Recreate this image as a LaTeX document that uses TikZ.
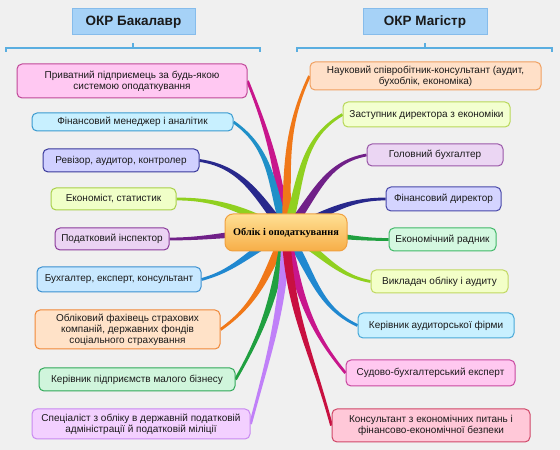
\documentclass[tikz,border=0pt]{standalone}
\usepackage{fontspec}
\setmainfont{Liberation Sans}
\newfontfamily\cfont{Liberation Serif}
\usetikzlibrary{calc}
\pgfdeclarelayer{bg}
\pgfsetlayers{bg,main}
\definecolor{bgc}{HTML}{F0F0F0}
\definecolor{txt}{HTML}{1A1A1A}
\definecolor{hdrf}{HTML}{A6D2F7}
\definecolor{hdrd}{HTML}{86BCEB}
\definecolor{brk}{HTML}{5AAEE0}
% box colours
\definecolor{l1f}{HTML}{FFC8F2}\definecolor{l1d}{HTML}{C04898}
\definecolor{l2f}{HTML}{C8F0FF}\definecolor{l2d}{HTML}{3A9AD0}
\definecolor{l3f}{HTML}{D0D0FF}\definecolor{l3d}{HTML}{38389A}
\definecolor{l4f}{HTML}{F0FFC8}\definecolor{l4d}{HTML}{A8D048}
\definecolor{l5f}{HTML}{EBD3F3}\definecolor{l5d}{HTML}{8A3A9A}
\definecolor{l6f}{HTML}{C8E8FF}\definecolor{l6d}{HTML}{3A90D0}
\definecolor{l7f}{HTML}{FFE2C8}\definecolor{l7d}{HTML}{F08838}
\definecolor{l8f}{HTML}{D0F5DC}\definecolor{l8d}{HTML}{30A858}
\definecolor{l9f}{HTML}{F3D0FF}\definecolor{l9d}{HTML}{C888F0}
\definecolor{r1f}{HTML}{FFE0C8}\definecolor{r1d}{HTML}{F0A060}
\definecolor{r2f}{HTML}{F3FFD0}\definecolor{r2d}{HTML}{B8D858}
\definecolor{r3f}{HTML}{EBD6F3}\definecolor{r3d}{HTML}{9A58A8}
\definecolor{r4f}{HTML}{D4D4FF}\definecolor{r4d}{HTML}{4848A8}
\definecolor{r5f}{HTML}{D4F8E0}\definecolor{r5d}{HTML}{40B868}
\definecolor{r6f}{HTML}{F3FFC8}\definecolor{r6d}{HTML}{C0D860}
\definecolor{r7f}{HTML}{C8F0FF}\definecolor{r7d}{HTML}{48A8D8}
\definecolor{r8f}{HTML}{FFC8F0}\definecolor{r8d}{HTML}{C848A0}
\definecolor{r9f}{HTML}{FFC8D8}\definecolor{r9d}{HTML}{D04868}
% branch colours
\definecolor{bmag}{HTML}{C8168C}
\definecolor{bcyan}{HTML}{2090C8}
\definecolor{bnavy}{HTML}{28288C}
\definecolor{bygr}{HTML}{90D020}
\definecolor{bpur}{HTML}{702088}
\definecolor{bblue}{HTML}{2088D0}
\definecolor{bora}{HTML}{F07818}
\definecolor{bgrn}{HTML}{20A040}
\definecolor{blil}{HTML}{C080F8}
\definecolor{bcri}{HTML}{C81040}
\definecolor{cnd}{HTML}{F0A040}
\definecolor{cnt}{HTML}{FFE094}
\definecolor{cnb}{HTML}{F7AE48}
% tapered branch: colour, start, end, out angle, in angle
\newcommand{\branch}[5]{%
  \fill[#1] ($(#2)+({#4+90}:4.3pt)$) to[out=#4,in=#5] ($(#3)+({#5-90}:1.4pt)$)
    -- ($(#3)+({#5+90}:1.4pt)$) to[out=#5,in=#4] ($(#2)+({#4-90}:4.3pt)$) -- cycle;}
\tikzset{
  box/.style={rounded corners=5pt, line width=1pt, inner sep=2pt, align=center,
    font=\fontsize{10}{11}\selectfont, text=txt},
  bx/.style n args={2}{box, fill=#1, draw=#2},
  hdr/.style={draw=hdrd, fill=hdrf, line width=1pt, minimum height=26pt,
    font=\bfseries\fontsize{13.5}{15}\selectfont, text=txt},
  brline/.style={draw=brk, line width=1.3pt},
  cnode/.style={draw=cnd, line width=1pt, rounded corners=8pt, top color=cnt, bottom color=cnb,
    minimum width=122pt, minimum height=37pt, font=\cfont\bfseries\fontsize{10.3}{12}\selectfont, text=black}
}
\begin{document}
\begin{tikzpicture}[x=1pt,y=1pt]
\begin{pgfonlayer}{bg}
\fill[bgc] (0,0) rectangle (560,450);
\end{pgfonlayer}
\useasboundingbox (0,0) rectangle (560,450);
% headers
\node[hdr, minimum width=123pt] (hb) at (133.5,428) {ОКР Бакалавр};
\node[hdr, minimum width=124pt] (hm) at (425,428) {ОКР Магістр};
% brackets
\draw[brline] (6,398) -- (6,402) -- (260,402) -- (260,398);
\draw[brline] (133,402) -- (133,407);
\draw[brline] (297,398) -- (297,402) -- (552,402) -- (552,398);
\draw[brline] (425,402) -- (425,407);
% left boxes
\node[bx={l1f}{l1d}, minimum width=230pt, minimum height=34pt] (L1) at (132,369) {Приватний підприємець за будь-якою\\системою оподаткування};
\node[bx={l2f}{l2d}, minimum width=201pt, minimum height=18pt] (L2) at (132.5,328) {Фінансовий менеджер і аналітик};
\node[bx={l3f}{l3d}, minimum width=156pt, minimum height=23pt] (L3) at (121,289.5) {Ревізор, аудитор, контролер};
\node[bx={l4f}{l4d}, minimum width=125pt, minimum height=22pt] (L4) at (113.5,251) {Економіст, статистик};
\node[bx={l5f}{l5d}, minimum width=114pt, minimum height=22pt] (L5) at (112,211) {Податковий інспектор};
\node[bx={l6f}{l6d}, minimum width=164pt, minimum height=25pt] (L6) at (119,170.5) {Бухгалтер, експерт, консультант};
\node[bx={l7f}{l7d}, minimum width=185pt, minimum height=39pt] (L7) at (127.5,120.5) {Обліковий фахівець страхових\\компаній, державних фондів\\соціального страхування};
\node[bx={l8f}{l8d}, minimum width=196pt, minimum height=23pt] (L8) at (137,70.5) {Керівник підприємств малого бізнесу};
\node[bx={l9f}{l9d}, minimum width=218pt, minimum height=30pt] (L9) at (141,26) {Спеціаліст з обліку в державній податковій\\адміністрації й податковій міліції};
% right boxes
\node[bx={r1f}{r1d}, minimum width=231pt, minimum height=28pt] (R1) at (425.5,374) {Науковий співробітник-консультант (аудит,\\бухоблік, економіка)};
\node[bx={r2f}{r2d}, minimum width=167pt, minimum height=25pt] (R2) at (426.5,335.5) {Заступник директора з економіки};
\node[bx={r3f}{r3d}, minimum width=136pt, minimum height=22pt] (R3) at (435,295) {Головний бухгалтер};
\node[bx={r4f}{r4d}, minimum width=115pt, minimum height=24pt] (R4) at (443.5,251) {Фінансовий директор};
\node[bx={r5f}{r5d}, minimum width=107pt, minimum height=23pt] (R5) at (442.5,210.5) {Економічний радник};
\node[bx={r6f}{r6d}, minimum width=137pt, minimum height=23pt] (R6) at (439.5,168.5) {Викладач обліку і аудиту};
\node[bx={r7f}{r7d}, minimum width=156pt, minimum height=25pt] (R7) at (436,124.5) {Керівник аудиторської фірми};
\node[bx={r8f}{r8d}, minimum width=169pt, minimum height=26pt] (R8) at (430.5,77) {Судово-бухгалтерський експерт};
\node[bx={r9f}{r9d}, minimum width=198pt, minimum height=33pt] (R9) at (431,24.5) {Консультант з економічних питань і\\фінансово-економічної безпеки};
% centre
\node[cnode] (C) at (286,217.5) {Облік і оподаткування};
% branches
\begin{pgfonlayer}{bg}
\branch{bmag}{C.center}{L1.east}{97}{-68}
\branch{bcyan}{C.center}{L2.east}{108}{-35}
\branch{bnavy}{C.center}{L3.east}{128}{-8}
\branch{bygr}{C.center}{L4.east}{152}{0}
\branch{bpur}{C.center}{L5.east}{178}{0}
\branch{bblue}{C.center}{L6.east}{-155}{15}
\branch{bora}{C.center}{L7.east}{-115}{35}
\branch{bgrn}{C.center}{L8.east}{-100}{60}
\branch{blil}{C.center}{L9.east}{-92}{75}
\branch{bora}{C.center}{R1.west}{88}{-115}
\branch{bygr}{C.center}{R2.west}{72}{-150}
\branch{bpur}{C.center}{R3.west}{50}{-170}
\branch{bnavy}{C.center}{R4.west}{25}{180}
\branch{bgrn}{C.center}{R5.west}{0}{180}
\branch{bygr}{C.center}{R6.west}{-25}{170}
\branch{bblue}{C.center}{R7.west}{-55}{155}
\branch{bmag}{C.center}{R8.west}{-78}{130}
\branch{bcri}{C.center}{R9.west}{-88}{105}
\end{pgfonlayer}
\end{tikzpicture}
\end{document}
